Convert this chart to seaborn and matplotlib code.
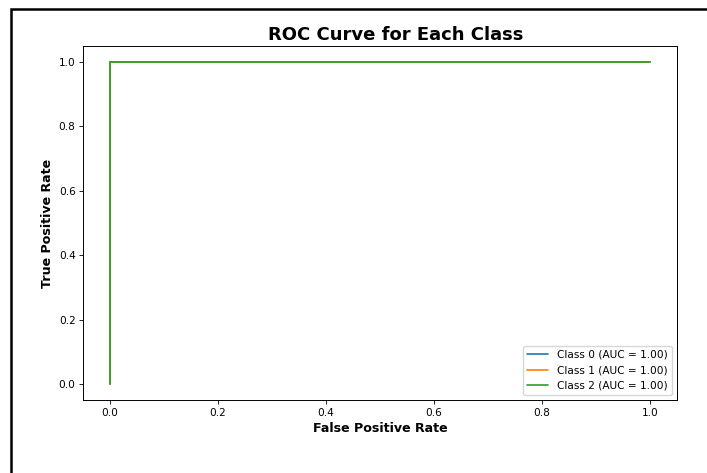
import matplotlib
matplotlib.use("Agg")
import matplotlib.pyplot as plt
import matplotlib.patches as mpatches
import seaborn as sns
import pandas as pd

classes = ["Class 0", "Class 1", "Class 2"]
auc_values = [1.00, 1.00, 1.00]
fpr_values = [[0.0, 0.0, 1.0], [0.0, 0.0, 1.0], [0.0, 0.0, 1.0]]
tpr_values = [[0.0, 1.0, 1.0], [0.0, 1.0, 1.0], [0.0, 1.0, 1.0]]

rows = []
for c, auc, f, t in zip(classes, auc_values, fpr_values, tpr_values):
    label = f"{c} (AUC = {auc:.2f})"
    for i, (x, y) in enumerate(zip(f, t)):
        rows.append({"fpr": x, "tpr": y, "label": label, "order": i})
df = pd.DataFrame(rows)

sns.set_style("ticks", {"text.color": "black", "axes.labelcolor": "black",
                        "xtick.color": "black", "ytick.color": "black",
                        "axes.edgecolor": "black"})
plt.rcParams['font.family'] = ['DejaVu Sans']

fig = plt.figure(figsize=(7.07, 4.73), dpi=100)
ax = fig.add_axes([83/707, 1-400/473, (677-83)/707, (400-46)/473])

palette = sns.color_palette("tab10", 3)
sns.lineplot(data=df, x="fpr", y="tpr", hue="label", palette=palette,
             estimator=None, sort=False, units="label", ax=ax, linewidth=1.2)

ax.set_xlim(-0.05, 1.05)
ax.set_ylim(-0.05, 1.05)
ax.set_xticks([0.0, 0.2, 0.4, 0.6, 0.8, 1.0])
ax.set_yticks([0.0, 0.2, 0.4, 0.6, 0.8, 1.0])
ax.tick_params(labelsize=7.6, length=2.7, width=0.6, pad=2.7)
ax.set_title("ROC Curve for Each Class", fontsize=13, fontweight="bold", pad=4.6,
             x=0.526)
ax.set_xlabel("False Positive Rate", fontsize=9.1, fontweight="bold", labelpad=3)
ax.set_ylabel("True Positive Rate", fontsize=9.1, fontweight="bold", labelpad=3)
for s in ax.spines.values():
    s.set_visible(True)
    s.set_linewidth(0.7)
    s.set_color("black")
ax.legend(loc="lower right", title=None, fontsize=7.6)

rect = mpatches.Rectangle((11/707, -0.2), 1.5, 1.2 - 9/473, transform=fig.transFigure,
                          fill=False, edgecolor="black", linewidth=1.8, clip_on=False)
fig.patches.append(rect)

fig.savefig("out.png", dpi=100)
